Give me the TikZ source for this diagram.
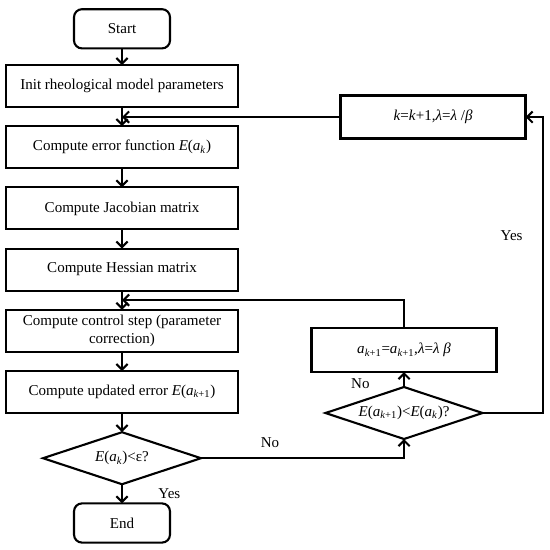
\documentclass[tikz,border=0pt]{standalone}
\usepackage{fontspec}
\setmainfont{Liberation Serif}
\usetikzlibrary{positioning,arrows.meta,shapes.geometric,calc}

\begin{document}
\begin{tikzpicture}[
  font=\fontsize{10.7pt}{12.8pt}\selectfont,
  node distance=0.48cm,
  box/.style={rectangle, draw, line width=1.5pt, outer sep=0pt, minimum width=5.8cm, minimum height=1.05cm, align=center},
  term/.style={rectangle, rounded corners=0.2cm, draw, line width=1.5pt, outer sep=0pt, minimum width=2.4cm, minimum height=0.98cm},
  decision/.style={diamond, aspect=3, draw, line width=1.5pt, outer sep=0pt, minimum width=3.95cm, minimum height=1.3cm, inner sep=0pt},
  arr/.style={-{Straight Barb[length=4pt,width=8pt]}, line width=1.5pt},
  lbl/.style={inner sep=1pt}
]
\useasboundingbox (0,0) rectangle (13.75,-13.725);

\node[box] (init) at (3.05,-2.15) {Init rheological model parameters};
\node[term, above=0.415cm of init] (start) {Start};
\node[box, below=of init] (err) {Compute error function \textit{E}(\textit{a}\textsubscript{\textit{k}})};
\node[box, below=of err] (jac) {Compute Jacobian matrix};
\node[box, below=of jac] (hess) {Compute Hessian matrix};
\node[box, below=of hess] (ctrl) {Compute control step (parameter\\correction)};
\node[box, below=of ctrl] (upd) {Compute updated error \textit{E}(\textit{a}\textsubscript{\textit{k}+1})};
\node[decision, below=of upd] (dec1) {\textit{E}(\textit{a}\textsubscript{\textit{k}})<ε?};
\node[term, below=of dec1] (end) {End};

\node[box, minimum width=4.625cm, minimum height=1.075cm] (kbox) at (10.825,-2.925) {\textit{k}=\textit{k}+1,\textit{λ}=\textit{λ} /\textit{β}};
\node[box, minimum width=4.625cm, minimum height=1.1cm] (abox) at (10.1,-8.75) {\textit{a}\textsubscript{\textit{k}+1}=\textit{a}\textsubscript{\textit{k}+1},\textit{λ}=\textit{λ} \textit{β}};
\node[decision, minimum width=3.925cm, below=0.375cm of abox] (dec2) {\textit{E}(\textit{a}\textsubscript{\textit{k}+1})<\textit{E}(\textit{a}\textsubscript{\textit{k}})?};

\coordinate (j2) at ($(hess.south)!0.5!(ctrl.north)$);
\coordinate (rt) at (13.575,0);

\draw[arr] (start) -- (init);
\draw[arr] (init) -- (err);
\draw[arr] (err) -- (jac);
\draw[arr] (jac) -- (hess);
\draw[arr] (hess) -- (ctrl);
\draw[arr] (ctrl) -- (upd);
\draw[arr] (upd) -- (dec1);
\draw[arr] (dec1) -- node[lbl, right=0.85cm] (yes1) {Yes} (end);
\draw[arr] (dec1.east) -| node[lbl, pos=0.17, above=0.2cm] (no1) {No} (dec2.south);
\draw[arr] (dec2) -- node[lbl, pos=0.2, left=0.8cm] (no2) {No} (abox);
\draw[arr] (abox.north) |- (j2);
\draw[arr] (dec2.east) -- (dec2.east -| rt) |- node[lbl, pos=0.3, left=0.45cm] (yes2) {Yes} (kbox.east);
\draw[arr] (kbox.west) -- (kbox.west -| init.south);
\end{tikzpicture}
\end{document}
